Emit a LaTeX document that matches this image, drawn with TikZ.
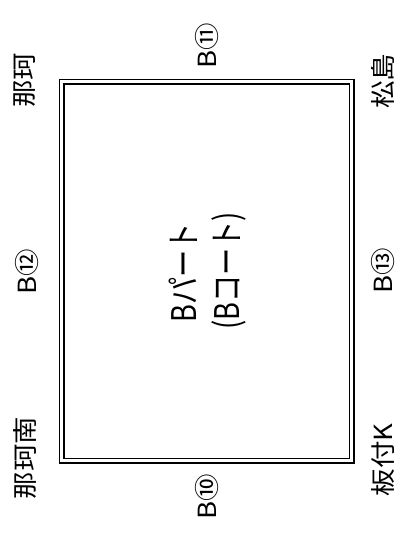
\documentclass[tikz,border=0pt]{standalone}
\usepackage{fontspec}
\setmainfont{Noto Sans CJK JP}
\newfontfamily\widejp[FakeStretch=1.1]{Noto Sans CJK JP}
\newfontfamily\narrowjp[FakeStretch=0.8]{Noto Sans CJK JP}
\usepackage{tikz}
\tikzstyle{label} = [rotate=90,font=\widejp\fontsize{25}{27}\selectfont,inner sep=0pt]
\tikzstyle{title} = [rotate=90,font=\narrowjp\fontsize{34}{36}\selectfont,inner sep=0pt]
\tikzstyle{court} = [draw,double,line width=1.8pt,double distance=2.4pt,inner sep=0pt]

\begin{document}
\begin{tikzpicture}[x=1pt,y=-1pt]
        \useasboundingbox (0,0) rectangle (403,536);
        \node[court, minimum width=290pt, minimum height=379pt] at (206.5,271) (court) {};

        \node[title] at (183,273) (part) {Bパート};
        \node[title] at (229,271) (coat) {(Bコート)};

        \node[label] at (25,80) (naka) {那珂};
        \node[label] at (383,81) (matsu) {松島};
        \node[label] at (25,458) (nakam) {那珂南};
        \node[label] at (383,460) (itazuke) {板付K};

        \node[label] at (27,272) (b12) {B⑫};
        \node[label] at (207,46) (b11) {B⑪};
        \node[label] at (383,271) (b13) {B⑬};
        \node[label] at (207,497) (b10) {B⑩};
    \end{tikzpicture}
\end{document}
